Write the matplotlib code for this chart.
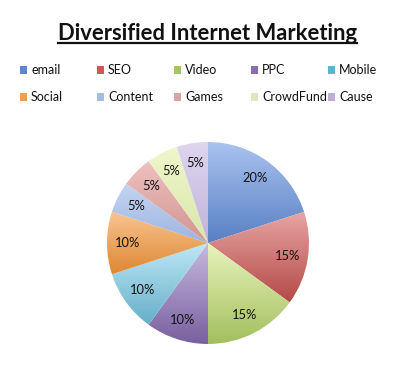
import numpy as np
import matplotlib
matplotlib.use("Agg")
import matplotlib.pyplot as plt
from matplotlib.patches import Rectangle
from matplotlib.lines import Line2D
from matplotlib.colors import to_rgb

# Share of marketing effort per channel (%)
channels = ["email", "SEO", "Video", "PPC", "Mobile",
            "Social", "Content", "Games", "CrowdFund", "Cause"]
shares = [20, 15, 15, 10, 10, 10, 5, 5, 5, 5]

# Each slice fades from a light top colour to a deeper bottom colour
top_colors = ["#aac2ef", "#e6a6a4", "#e8f3bc", "#c7b8de", "#bde7f6",
              "#f9c591", "#c4d5f2", "#edc0bf", "#f0f6cc", "#ded5ee"]
bottom_colors = ["#5880c4", "#b54a48", "#a3bf5e", "#7960a0", "#66afc8",
                 "#de8733", "#9db5df", "#d29590", "#d8e6aa", "#c0b3da"]
legend_colors = ["#5b89c9", "#c95a57", "#a5c466", "#8a6fae", "#5cb6d0",
                 "#f0a050", "#a3bde0", "#dca3a1", "#dbe8c2", "#bdaed3"]

plt.rcParams["font.family"] = ["Lato", "DejaVu Sans"]

W, H = 400, 381
fig = plt.figure(figsize=(W / 100, H / 100), dpi=100)

# Title with underline
title = fig.text(207.5 / W, 1 - 33 / H, "Diversified Internet Marketing",
                 ha="center", va="center", fontsize=15.8, fontweight="bold",
                 color="#111111")

# Legend laid out as a 2 x 5 grid
col_x = [20, 97, 174, 251, 328]
row_y = [70, 97]
for i, (name, col) in enumerate(zip(channels, legend_colors)):
    r, c = divmod(i, 5)
    x0 = col_x[c]
    y0 = row_y[r]
    fig.patches.append(Rectangle((x0 / W, 1 - (y0 + 3.5) / H), 7 / W, 7 / H,
                                 transform=fig.transFigure, facecolor=col,
                                 edgecolor="none"))
    fig.text((x0 + 11) / W, 1 - y0 / H, name, ha="left", va="center",
             fontsize=9, color="#111111")

# Pie chart
cx, cy, R = 208, 243, 102
ax = fig.add_axes([(cx - R) / W, (H - cy - R) / H, 2 * R / W, 2 * R / H])
wedges, texts, autotexts = ax.pie(
    shares, startangle=90, counterclock=False, radius=1,
    autopct="%.0f%%", pctdistance=0.8,
    wedgeprops=dict(edgecolor="none", linewidth=0),
    textprops=dict(fontsize=9.3, color="#111111"))

for w, tc, bc in zip(wedges, top_colors, bottom_colors):
    verts = w.get_path().vertices
    xmin, ymin = verts.min(axis=0)
    xmax, ymax = verts.max(axis=0)
    t = np.linspace(0, 1, 64)[:, None]
    grad = (1 - t) * np.array(to_rgb(bc)) + t * np.array(to_rgb(tc))
    img = ax.imshow(grad[:, None, :], extent=(xmin, xmax, ymin, ymax),
                    origin="lower", aspect="auto", interpolation="bilinear",
                    zorder=1)
    img.set_clip_path(w)
    w.set_facecolor("none")

for t in autotexts:
    t.set_zorder(5)

ax.set_xlim(-1.01, 1.01)
ax.set_ylim(-1.01, 1.01)
ax.set_aspect("equal")
ax.axis("off")

# Underline under the title
fig.canvas.draw()
bb = title.get_window_extent()
fig.add_artist(Line2D([bb.x0, bb.x1], [bb.y0 + 1, bb.y0 + 1],
                      transform=None, color="#111111", linewidth=1.6))

fig.savefig("out.png", dpi=100, facecolor="white")
